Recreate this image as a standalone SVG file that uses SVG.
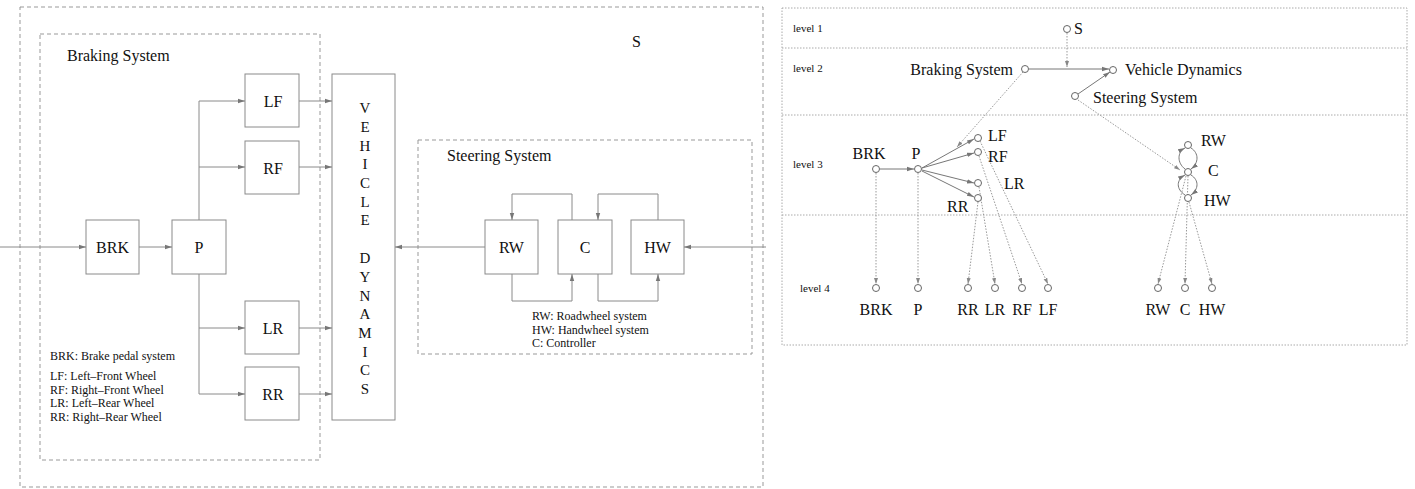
<svg xmlns="http://www.w3.org/2000/svg" width="1415" height="489" viewBox="0 0 1415 489">
<style>
text{font-family:"Liberation Serif","Times New Roman",serif;fill:#111}
.box{fill:none;stroke:#8a8a8a;stroke-width:1}
.dash{fill:none;stroke:#999;stroke-width:1;stroke-dasharray:4 3}
.dot{fill:none;stroke:#aaa;stroke-width:1;stroke-dasharray:1.5 1.5}
.ln{fill:none;stroke:#8a8a8a;stroke-width:1}
.ln2{fill:none;stroke:#777;stroke-width:1}
.dl{fill:none;stroke:#999;stroke-width:1;stroke-dasharray:1.5 1.5}
.nd{fill:#fff;stroke:#666;stroke-width:1}
.t14{font-size:15px}
.t16{font-size:16px}
.t15{font-size:16px}
.t11{font-size:12px}
.lv{font-size:11px}
</style>
<defs>
<marker id="ar" markerUnits="userSpaceOnUse" markerWidth="8" markerHeight="6" refX="7" refY="3" orient="auto">
<path d="M0,0.8 L7,3 L0,5.2 z" fill="#777"/>
</marker>
<marker id="ars" markerUnits="userSpaceOnUse" markerWidth="7" markerHeight="6" refX="6" refY="3" orient="auto">
<path d="M0,1 L6,3 L0,5 z" fill="#888"/>
</marker>
</defs>

<!-- Left panel frames -->
<g id="frame-S">
<rect class="dash" x="20" y="7" width="743" height="480"/>
<text class="t16" x="632" y="47">S</text>
</g>
<g id="frame-braking">
<rect class="dash" x="40" y="34" width="280" height="426"/>
<text class="t16" x="67" y="61">Braking System</text>
<text class="t11" x="50" y="360">BRK: Brake pedal system</text>
<text class="t11" x="50" y="380">LF: Left–Front Wheel</text>
<text class="t11" x="50" y="393.5">RF: Right–Front Wheel</text>
<text class="t11" x="50" y="407">LR: Left–Rear Wheel</text>
<text class="t11" x="50" y="420.5">RR: Right–Rear Wheel</text>
</g>
<g id="frame-steering">
<rect class="dash" x="418" y="140" width="334" height="214"/>
<text class="t16" x="447" y="161">Steering System</text>
<text class="t11" x="532" y="320">RW: Roadwheel system</text>
<text class="t11" x="532" y="333.5">HW: Handwheel system</text>
<text class="t11" x="532" y="347">C: Controller</text>
</g>

<!-- Left panel nodes -->
<g id="n-BRK"><rect class="box" x="86" y="220" width="53" height="54"/><text class="t15" x="112.5" y="253" text-anchor="middle">BRK</text></g>
<g id="n-P"><rect class="box" x="172" y="220" width="54" height="54"/><text class="t15" x="199" y="253" text-anchor="middle">P</text></g>
<g id="n-LF"><rect class="box" x="245" y="74" width="54" height="53"/><text class="t15" x="273" y="107" text-anchor="middle">LF</text></g>
<g id="n-RF"><rect class="box" x="245" y="141" width="54" height="53"/><text class="t15" x="273" y="174" text-anchor="middle">RF</text></g>
<g id="n-LR"><rect class="box" x="245" y="301" width="54" height="53"/><text class="t15" x="273" y="334" text-anchor="middle">LR</text></g>
<g id="n-RR"><rect class="box" x="245" y="367" width="54" height="53"/><text class="t15" x="273" y="400" text-anchor="middle">RR</text></g>
<g id="n-VD">
<rect class="box" x="332" y="74" width="63" height="346"/>
<g class="t14" text-anchor="middle">
<text x="365" y="113">V</text><text x="365" y="132">E</text><text x="365" y="150.5">H</text><text x="365" y="169">I</text><text x="365" y="188">C</text><text x="365" y="206.5">L</text><text x="365" y="225">E</text>
<text x="365" y="263">D</text><text x="365" y="282">Y</text><text x="365" y="300.5">N</text><text x="365" y="319">A</text><text x="365" y="338">M</text><text x="365" y="356.5">I</text><text x="365" y="375">C</text><text x="365" y="394">S</text>
</g>
</g>
<g id="n-RW"><rect class="box" x="485" y="220" width="53" height="54"/><text class="t15" x="511.5" y="253" text-anchor="middle">RW</text></g>
<g id="n-C"><rect class="box" x="558" y="220" width="54" height="54"/><text class="t15" x="585" y="253" text-anchor="middle">C</text></g>
<g id="n-HW"><rect class="box" x="631" y="220" width="53" height="54"/><text class="t15" x="657.5" y="253" text-anchor="middle">HW</text></g>

<!-- Left panel connectors -->
<g id="connectors-left">
<path class="ln" d="M0,247 H86" marker-end="url(#ar)"/>
<path class="ln" d="M139,247 H172" marker-end="url(#ar)"/>
<path class="ln" d="M199,220 V101 H245" marker-end="url(#ar)"/>
<path class="ln" d="M199,167 H245" marker-end="url(#ar)"/>
<path class="ln" d="M199,274 V394 H245" marker-end="url(#ar)"/>
<path class="ln" d="M199,328 H245" marker-end="url(#ar)"/>
<path class="ln" d="M299,101 H332" marker-end="url(#ar)"/>
<path class="ln" d="M299,167 H332" marker-end="url(#ar)"/>
<path class="ln" d="M299,328 H332" marker-end="url(#ar)"/>
<path class="ln" d="M299,394 H332" marker-end="url(#ar)"/>
<path class="ln" d="M485,247 H395" marker-end="url(#ar)"/>
<path class="ln" d="M766,247 H684" marker-end="url(#ar)"/>
<path class="ln" d="M572,220 V194 H512 V220" marker-end="url(#ar)"/>
<path class="ln" d="M658,220 V194 H598 V220" marker-end="url(#ar)"/>
<path class="ln" d="M512,274 V301 H572 V274" marker-end="url(#ar)"/>
<path class="ln" d="M598,274 V301 H658 V274" marker-end="url(#ar)"/>
</g>

<!-- Right panel -->
<g id="frame-levels">
<rect class="dot" x="782" y="8" width="625" height="337"/>
<path class="dot" d="M782,48 H1407 M782,115 H1407 M782,215 H1407"/>
<text class="lv" x="793" y="32">level 1</text>
<text class="lv" x="793" y="72">level 2</text>
<text class="lv" x="793" y="168">level 3</text>
<text class="lv" x="800" y="292">level 4</text>
</g>

<g id="connectors-right">
<path class="dl" d="M1067,33 V67" marker-end="url(#ars)"/>
<path class="ln2" d="M1029,69 H1109" marker-end="url(#ar)"/>
<path class="ln2" d="M1078,94 L1110,72" marker-end="url(#ar)"/>
<path class="dl" d="M1023,72 L957,147" marker-end="url(#ars)"/>
<path class="dl" d="M1078,100 L1180,170" marker-end="url(#ars)"/>
<path class="ln2" d="M880,169 H914" marker-end="url(#ar)"/>
<path class="ln2" d="M922,168 L974,139" marker-end="url(#ar)"/>
<path class="ln2" d="M922,168 L974,153" marker-end="url(#ar)"/>
<path class="ln2" d="M922,170 L974,183" marker-end="url(#ar)"/>
<path class="ln2" d="M922,171 L974,197" marker-end="url(#ar)"/>
<path class="dl" d="M876,173 V284" marker-end="url(#ars)"/>
<path class="dl" d="M918,173 V284" marker-end="url(#ars)"/>
<path class="dl" d="M978,202 L968,284" marker-end="url(#ars)"/>
<path class="dl" d="M979,187 L995,284" marker-end="url(#ars)"/>
<path class="dl" d="M979,156 L1022,284" marker-end="url(#ars)"/>
<path class="dl" d="M980,141 L1048,284" marker-end="url(#ars)"/>
<path class="ln2" d="M1185,169 C1177,163 1177,152 1185,148" marker-end="url(#ar)"/>
<path class="ln2" d="M1191,148 C1199,153 1199,163 1191,169" marker-end="url(#ar)"/>
<path class="ln2" d="M1185,195 C1176,189 1176,180 1185,175" marker-end="url(#ar)"/>
<path class="ln2" d="M1191,175 C1199,180 1199,189 1191,195" marker-end="url(#ar)"/>
<path class="dl" d="M1186,176 L1158,284" marker-end="url(#ars)"/>
<path class="dl" d="M1188,176 L1185,284" marker-end="url(#ars)"/>
<path class="dl" d="M1189,202 L1212,284" marker-end="url(#ars)"/>
</g>

<g id="t-S"><circle class="nd" cx="1067" cy="29" r="3.5"/><text class="t16" x="1074" y="34">S</text></g>
<g id="t-BrakingSystem"><circle class="nd" cx="1025" cy="69" r="3.5"/><text class="t16" x="1013" y="75" text-anchor="end">Braking System</text></g>
<g id="t-VehicleDynamics"><circle class="nd" cx="1113" cy="70" r="3.5"/><text class="t16" x="1125" y="75">Vehicle Dynamics</text></g>
<g id="t-SteeringSystem"><circle class="nd" cx="1075" cy="96" r="3.5"/><text class="t16" x="1093" y="103">Steering System</text></g>

<g id="t3-BRK"><circle class="nd" cx="876" cy="169" r="3.5"/><text class="t15" x="869" y="159" text-anchor="middle">BRK</text></g>
<g id="t3-P"><circle class="nd" cx="918" cy="169" r="3.5"/><text class="t15" x="916" y="159" text-anchor="middle">P</text></g>
<g id="t3-LF"><circle class="nd" cx="978" cy="138" r="3.5"/><text class="t15" x="988" y="141">LF</text></g>
<g id="t3-RF"><circle class="nd" cx="978" cy="152" r="3.5"/><text class="t15" x="988" y="162">RF</text></g>
<g id="t3-LR"><circle class="nd" cx="978" cy="183" r="3.5"/><text class="t15" x="1004" y="189">LR</text></g>
<g id="t3-RR"><circle class="nd" cx="978" cy="198" r="3.5"/><text class="t15" x="947" y="212">RR</text></g>
<g id="t3-RW"><circle class="nd" cx="1188" cy="145" r="3.5"/><text class="t15" x="1201" y="146">RW</text></g>
<g id="t3-C"><circle class="nd" cx="1188" cy="172" r="3.5"/><text class="t15" x="1208" y="176">C</text></g>
<g id="t3-HW"><circle class="nd" cx="1188" cy="198" r="3.5"/><text class="t15" x="1204" y="206">HW</text></g>

<g id="t4-BRK"><circle class="nd" cx="876" cy="288" r="3.5"/><text class="t15" x="876" y="315" text-anchor="middle">BRK</text></g>
<g id="t4-P"><circle class="nd" cx="918" cy="288" r="3.5"/><text class="t15" x="918" y="315" text-anchor="middle">P</text></g>
<g id="t4-RR"><circle class="nd" cx="968" cy="288" r="3.5"/><text class="t15" x="968" y="315" text-anchor="middle">RR</text></g>
<g id="t4-LR"><circle class="nd" cx="995" cy="288" r="3.5"/><text class="t15" x="995" y="315" text-anchor="middle">LR</text></g>
<g id="t4-RF"><circle class="nd" cx="1022" cy="288" r="3.5"/><text class="t15" x="1022" y="315" text-anchor="middle">RF</text></g>
<g id="t4-LF"><circle class="nd" cx="1048" cy="288" r="3.5"/><text class="t15" x="1048" y="315" text-anchor="middle">LF</text></g>
<g id="t4-RW"><circle class="nd" cx="1158" cy="288" r="3.5"/><text class="t15" x="1158" y="315" text-anchor="middle">RW</text></g>
<g id="t4-C"><circle class="nd" cx="1185" cy="288" r="3.5"/><text class="t15" x="1185" y="315" text-anchor="middle">C</text></g>
<g id="t4-HW"><circle class="nd" cx="1212" cy="288" r="3.5"/><text class="t15" x="1212" y="315" text-anchor="middle">HW</text></g>
</svg>
